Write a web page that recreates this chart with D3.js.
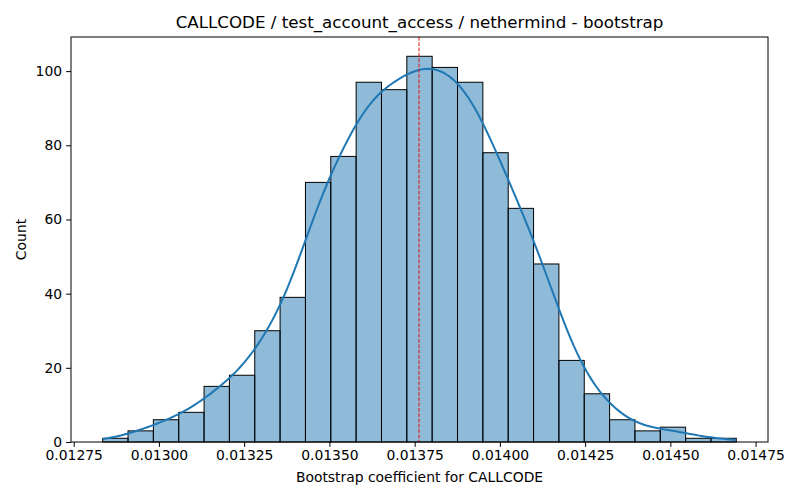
<!DOCTYPE html>
<html>
<head>
<meta charset="utf-8">
<script src="https://cdn.jsdelivr.net/npm/d3@7"></script>
<style>
  body { margin: 0; background: #fff; }
  svg { font-family: "DejaVu Sans", sans-serif; }
</style>
</head>
<body>
<svg id="chart"></svg>
<script>
// histogram bins
const binStart = 0.012835;
const binWidth = 0.00007434;
const counts = [1, 3, 6, 8, 15, 18, 30, 39, 70, 77, 97, 95, 104, 101, 97, 78, 63, 48, 22, 13, 6, 3, 4, 1, 1];
const estimate = 0.0137628;  // red dashed line
const xTicks = [0.01275, 0.01300, 0.01325, 0.01350, 0.01375, 0.01400, 0.01425, 0.01450, 0.01475];
const yTicks = [0, 20, 40, 60, 80, 100];

const title = "CALLCODE / test_account_access / nethermind - bootstrap";
const xLabel = "Bootstrap coefficient for CALLCODE";
const yLabel = "Count";

const width = 800, height = 500;
const margin = { top: 37, right: 32, bottom: 58, left: 71 };

const svg = d3.select("#chart")
    .attr("width", width)
    .attr("height", height);

const bins = counts.map(function (c, i) {
    return { x0: binStart + i * binWidth, x1: binStart + (i + 1) * binWidth, count: c };
});
const xMin = bins[0].x0, xMax = bins[bins.length - 1].x1;
const pad = (xMax - xMin) * 0.05;

const x = d3.scaleLinear()
    .domain([xMin - pad, xMax + pad])
    .range([margin.left, width - margin.right]);

const yMax = d3.max(counts) * 1.05;
const y = d3.scaleLinear()
    .domain([0, yMax])
    .range([height - margin.bottom, margin.top]);

// bars
svg.append("g")
    .selectAll("rect")
    .data(bins)
    .enter().append("rect")
    .attr("x", function (d) { return x(d.x0); })
    .attr("y", function (d) { return y(d.count); })
    .attr("width", function (d) { return x(d.x1) - x(d.x0); })
    .attr("height", function (d) { return y(0) - y(d.count); })
    .attr("fill", "#1f77b4")
    .attr("fill-opacity", 0.5)
    .attr("stroke", "#000")
    .attr("stroke-width", 1);

// kde over bin centres weighted by count, scott bandwidth, scaled to counts
const n = d3.sum(counts);
const centers = bins.map(function (d) { return (d.x0 + d.x1) / 2; });
const mean = d3.sum(centers, function (c, i) { return c * counts[i]; }) / n;
const variance = d3.sum(centers, function (c, i) { return counts[i] * (c - mean) * (c - mean); }) / (n - 1);
const bw = Math.sqrt(variance) * Math.pow(n, -1 / 5);

function kde(v) {
    let s = 0;
    centers.forEach(function (c, i) {
        const z = (v - c) / bw;
        s += counts[i] * Math.exp(-0.5 * z * z);
    });
    return s / (n * bw * Math.sqrt(2 * Math.PI)) * n * binWidth;
}

const kdeX = d3.range(200).map(function (i) { return xMin + (xMax - xMin) * i / 199; });
const line = d3.line()
    .x(function (v) { return x(v); })
    .y(function (v) { return y(kde(v)); });

svg.append("path")
    .datum(kdeX)
    .attr("d", line)
    .attr("fill", "none")
    .attr("stroke", "#1f77b4")
    .attr("stroke-width", 2);

// estimate line
svg.append("line")
    .attr("x1", x(estimate)).attr("x2", x(estimate))
    .attr("y1", margin.top).attr("y2", height - margin.bottom)
    .attr("stroke", "#e01010")
    .attr("stroke-width", 1)
    .attr("stroke-dasharray", "3.7,1.6");

// axes
const xAxis = d3.axisBottom(x)
    .tickValues(xTicks)
    .tickFormat(d3.format(".5f"))
    .tickSize(4.9)
    .tickPadding(3.5);
const yAxis = d3.axisLeft(y)
    .tickValues(yTicks)
    .tickSize(4.9)
    .tickPadding(4);

const gx = svg.append("g")
    .attr("transform", "translate(0," + (height - margin.bottom) + ")")
    .call(xAxis);
const gy = svg.append("g")
    .attr("transform", "translate(" + margin.left + ",0)")
    .call(yAxis);

[gx, gy].forEach(function (g) {
    g.select(".domain").remove();
    g.selectAll("text")
        .attr("font-family", "DejaVu Sans")
        .attr("font-size", "13.9px")
        .attr("fill", "#000");
    g.selectAll("line").attr("stroke", "#000").attr("stroke-width", 1);
});

// frame
svg.append("rect")
    .attr("x", margin.left)
    .attr("y", margin.top)
    .attr("width", width - margin.left - margin.right)
    .attr("height", height - margin.top - margin.bottom)
    .attr("fill", "none")
    .attr("stroke", "#000")
    .attr("stroke-width", 1);

// texts
svg.append("text")
    .attr("x", (margin.left + width - margin.right) / 2)
    .attr("y", 28)
    .attr("text-anchor", "middle")
    .attr("font-size", "16.7px")
    .text(title);

svg.append("text")
    .attr("x", (margin.left + width - margin.right) / 2)
    .attr("y", 482)
    .attr("text-anchor", "middle")
    .attr("font-size", "13.9px")
    .text(xLabel);

svg.append("text")
    .attr("transform", "translate(26," + (margin.top + height - margin.bottom) / 2 + ")rotate(-90)")
    .attr("text-anchor", "middle")
    .attr("font-size", "13.9px")
    .text(yLabel);
</script>
</body>
</html>
